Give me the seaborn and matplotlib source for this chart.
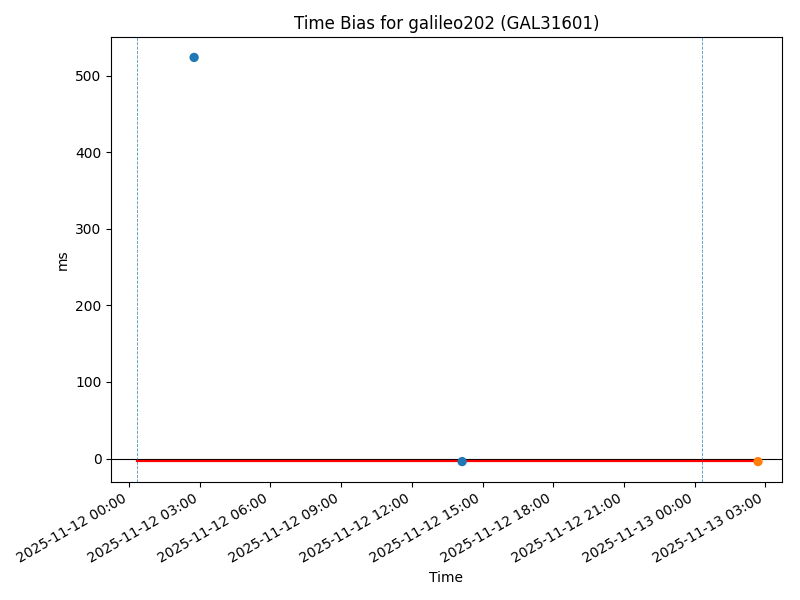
import matplotlib
matplotlib.use("Agg")
import matplotlib.pyplot as plt
import matplotlib.dates as mdates
import seaborn as sns
import pandas as pd

# data
pt_times = ["2025-11-12 02:46", "2025-11-12 14:08", "2025-11-13 02:41"]
pt_values = [524.0, -4.0, -4.0]
pt_group = ["a", "a", "b"]
vline_times = ["2025-11-12 00:20", "2025-11-13 00:19"]
fit_times = ["2025-11-12 00:20", "2025-11-13 02:41"]
fit_values = [-3.5, -3.5]
xlim_times = ["2025-11-11 23:15", "2025-11-13 03:41"]

pts = pd.DataFrame({"Time": pd.to_datetime(pt_times), "ms": pt_values, "g": pt_group})
fit = pd.DataFrame({"Time": pd.to_datetime(fit_times), "ms": fit_values})

fig, ax = plt.subplots(figsize=(8, 6), dpi=100)
ax.axhline(0, color="black", lw=0.8)
for t in vline_times:
    ax.axvline(pd.Timestamp(t), color="#1f77b4", ls="--", lw=0.6, alpha=0.8)
sns.lineplot(data=fit, x="Time", y="ms", color="red", lw=1.6, ax=ax)
sns.scatterplot(data=pts, x="Time", y="ms", hue="g", palette=["#1f77b4", "#ff7f0e"],
                s=45, linewidth=0, legend=False, ax=ax, zorder=3)
ax.set_xlim(pd.Timestamp(xlim_times[0]), pd.Timestamp(xlim_times[1]))
ax.xaxis.set_major_locator(mdates.HourLocator(byhour=range(0, 24, 3)))
ax.xaxis.set_major_formatter(mdates.DateFormatter("%Y-%m-%d %H:%M"))
ax.set_title("Time Bias for galileo202 (GAL31601)")
ax.set_xlabel("Time")
ax.set_ylabel("ms")
fig.autofmt_xdate()
fig.subplots_adjust(left=0.139, right=0.977, top=0.938, bottom=0.197)
fig.savefig("out.png", dpi=100)
